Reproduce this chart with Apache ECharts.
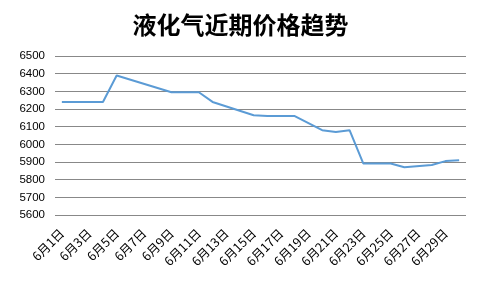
<!DOCTYPE html>
<html>
<head>
<meta charset="utf-8">
<script src="https://cdn.jsdelivr.net/npm/echarts@6/dist/echarts.min.js"></script>
<style>html,body{margin:0;padding:0;background:#fff}#c{width:481px;height:296px}</style>
</head>
<body>
<div id="c"></div>
<script>
const titleText = '液化气近期价格趋势';
const days = ['6月1日','6月2日','6月3日','6月4日','6月5日','6月6日','6月7日','6月8日','6月9日','6月10日',
  '6月11日','6月12日','6月13日','6月14日','6月15日','6月16日','6月17日','6月18日','6月19日','6月20日',
  '6月21日','6月22日','6月23日','6月24日','6月25日','6月26日','6月27日','6月28日','6月29日','6月30日'];
const prices = [6240, null, null, 6240, 6390, null, null, null, 6295, null,
  6295, 6240, null, null, 6165, 6160, null, 6160, null, 6080,
  6070, 6080, 5892, null, 5892, 5870, null, 5883, 5905, 5910];
const yMin = 5600, yMax = 6500, yStep = 100;

const chart = echarts.init(document.getElementById('c'), null, {renderer: 'canvas'});
chart.setOption({
  animation: false,
  title: {
    text: titleText, left: 'center', top: 8,
    textStyle: {fontFamily: 'Noto Sans CJK SC', fontWeight: 'bold', fontSize: 24, color: '#000'}
  },
  grid: {left: 55, right: 15, top: 56, bottom: 81},
  xAxis: {
    type: 'category', data: days, boundaryGap: true,
    axisLine: {show: false}, axisTick: {show: false},
    axisLabel: {interval: 1, rotate: 45, margin: 16, fontSize: 12.5, color: '#000',
      fontFamily: 'Noto Sans CJK SC'}
  },
  yAxis: {
    type: 'value', min: yMin, max: yMax, interval: yStep,
    axisLine: {show: false}, axisTick: {show: false},
    axisLabel: {fontSize: 11.5, color: '#000', margin: 10, fontFamily: 'Liberation Sans',
      formatter: v => String(v)},
    splitLine: {lineStyle: {color: '#888', width: 1}}
  },
  series: [{
    type: 'line', data: prices, connectNulls: true, symbol: 'none',
    lineStyle: {color: '#5B9BD5', width: 2}
  }]
});
</script>
</body>
</html>
